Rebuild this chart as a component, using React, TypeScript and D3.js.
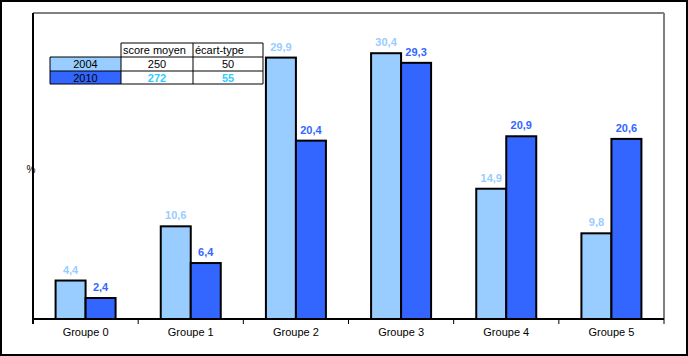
import React, { useEffect } from "react";
import * as d3 from "d3";

const categories = ["Groupe 0", "Groupe 1", "Groupe 2", "Groupe 3", "Groupe 4", "Groupe 5"];
const series2004 = [4.4, 10.6, 29.9, 30.4, 14.9, 9.8];
const series2010 = [2.4, 6.4, 20.4, 29.3, 20.9, 20.6];
const seriesNames = ["2004", "2010"];
const tableHeaders = ["score moyen", "écart-type"];
const tableScores = ["250", "272"];
const tableSd = ["50", "55"];

const W = 688;
const H = 356;
const plot = { left: 33, right: 664, top: 13, bottom: 319 };
const colors = ["#99CCFF", "#3366FF"];
const labelColors = ["#99CCFF", "#3366FF"];
const font = "Arial, 'Liberation Sans', sans-serif";

export default function App() {
  useEffect(() => {
    document.body.style.margin = "0";
  }, []);

  const x = d3.scaleBand<string>().domain(categories).range([plot.left, plot.right]).paddingInner(0).paddingOuter(0);
  const y = d3.scaleLinear().domain([0, 35]).range([plot.bottom, plot.top]);
  const barW = 30;
  const data = [series2004, series2010];

  const tableX = [50, 121, 193, 263];
  const tableY = [43, 57, 71, 84];

  return (
    <svg width={W} height={H} style={{ display: "block" }} fontFamily={font}>
      <rect x={0} y={0} width={W} height={H} fill="#fff" />
      <rect x={1} y={1} width={W - 2} height={H - 2} fill="none" stroke="#000" strokeWidth={2} />
      {/* plot area border */}
      <line x1={plot.left} x2={plot.right} y1={plot.top} y2={plot.top} stroke="#808080" strokeWidth={2} />
      <line x1={plot.right} x2={plot.right} y1={plot.top} y2={plot.bottom} stroke="#808080" strokeWidth={2} />

      {/* bars */}
      {categories.map((c, i) => {
        const cx = (x(c) as number) + x.bandwidth() / 2;
        return data.map((s, k) => {
          const bx = cx - barW + k * barW;
          return (
            <g key={c + k}>
              <rect x={bx} y={y(s[i])} width={barW} height={y(0) - y(s[i])} fill={colors[k]} stroke="#000" strokeWidth={2} />
              <text x={bx + barW / 2} y={y(s[i]) - 7} textAnchor="middle" fontSize={11} fontWeight="bold" fill={labelColors[k]}>
                {String(s[i]).replace(".", ",")}
              </text>
            </g>
          );
        });
      })}

      {/* axes */}
      <line x1={plot.left} x2={plot.left} y1={plot.top} y2={plot.bottom + 5} stroke="#000" strokeWidth={2} />
      <line x1={plot.left} x2={plot.right} y1={plot.bottom} y2={plot.bottom} stroke="#000" strokeWidth={2} />
      {categories.map((c, i) => (
        <line key={"t" + i} x1={(x(c) as number) + x.bandwidth()} x2={(x(c) as number) + x.bandwidth()} y1={plot.bottom} y2={plot.bottom + 5} stroke="#000" strokeWidth={1} />
      ))}
      {categories.map((c) => (
        <text key={"l" + c} x={(x(c) as number) + x.bandwidth() / 2} y={336} textAnchor="middle" fontSize={11} fill="#000">
          {c}
        </text>
      ))}
      <text x={31} y={173} textAnchor="middle" fontSize={10} fill="#000">%</text>

      {/* table */}
      <g>
        <rect x={tableX[0]} y={tableY[1]} width={tableX[1] - tableX[0]} height={tableY[2] - tableY[1]} fill={colors[0]} />
        <rect x={tableX[0]} y={tableY[2]} width={tableX[1] - tableX[0]} height={tableY[3] - tableY[2]} fill={colors[1]} />
        {/* horizontal lines */}
        <line x1={tableX[1]} x2={tableX[3]} y1={tableY[0]} y2={tableY[0]} stroke="#000" strokeWidth={1} />
        {[1, 2, 3].map((r) => (
          <line key={"h" + r} x1={tableX[0]} x2={tableX[3]} y1={tableY[r]} y2={tableY[r]} stroke="#000" strokeWidth={1} />
        ))}
        <line x1={tableX[0]} x2={tableX[0]} y1={tableY[1]} y2={tableY[3]} stroke="#000" strokeWidth={1} />
        {[1, 2, 3].map((cI) => (
          <line key={"v" + cI} x1={tableX[cI]} x2={tableX[cI]} y1={tableY[0]} y2={tableY[3]} stroke="#000" strokeWidth={1} />
        ))}
        {tableHeaders.map((h, i) => (
          <text key={h} x={tableX[i + 1] + 2} y={tableY[0] + 11} fontSize={11} fill="#000">{h}</text>
        ))}
        {seriesNames.map((n, r) => (
          <g key={n}>
            <text x={(tableX[0] + tableX[1]) / 2} y={tableY[r + 1] + 11} textAnchor="middle" fontSize={11} fill="#000">{n}</text>
            <text x={(tableX[1] + tableX[2]) / 2} y={tableY[r + 1] + 11} textAnchor="middle" fontSize={11}
              fontWeight={r === 1 ? "bold" : "normal"} fill={r === 1 ? "#33CCFF" : "#000"}>{tableScores[r]}</text>
            <text x={(tableX[2] + tableX[3]) / 2} y={tableY[r + 1] + 11} textAnchor="middle" fontSize={11}
              fontWeight={r === 1 ? "bold" : "normal"} fill={r === 1 ? "#33CCFF" : "#000"}>{tableSd[r]}</text>
          </g>
        ))}
      </g>
    </svg>
  );
}
